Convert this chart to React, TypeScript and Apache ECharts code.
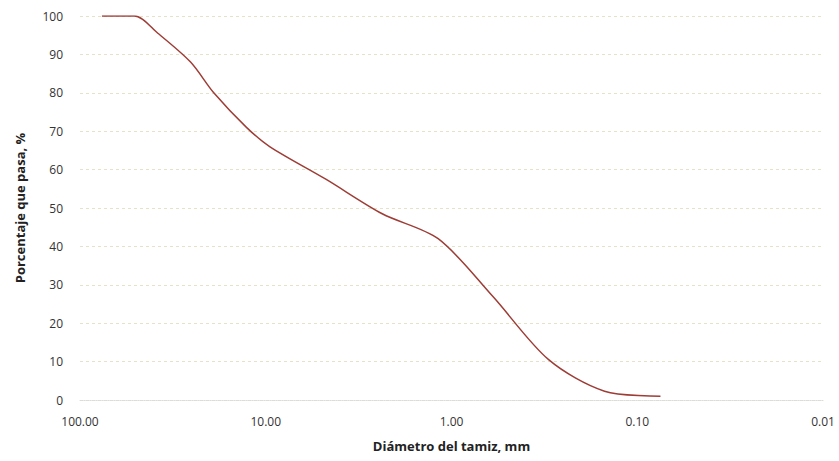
import React, { useEffect, useRef } from "react";
import * as echarts from "echarts";

const diameters = [76.2, 50.8, 38.1, 25.4, 19.05, 12.7, 9.53, 4.75, 2.36, 1.18, 0.6, 0.3, 0.15, 0.075];
const passing = [100, 100, 95.5, 88, 80, 71, 66, 57.5, 48.5, 42, 27, 10.5, 2.3, 1];
const yTicks = [0, 10, 20, 30, 40, 50, 60, 70, 80, 90, 100];

export default function App() {
  const ref = useRef<HTMLDivElement>(null);
  useEffect(() => {
    if (!ref.current) return;
    const chart = echarts.init(ref.current, undefined, { renderer: "svg" });
    const font = "'Open Sans', 'Noto Sans', sans-serif";
    chart.setOption({
      animation: false,
      grid: { left: 80, right: 16, top: 16, bottom: 61, containLabel: false },
      xAxis: {
        type: "log",
        logBase: 10,
        min: 0.01,
        max: 100,
        inverse: true,
        name: "Diámetro del tamiz, mm",
        nameLocation: "middle",
        nameGap: 39,
        nameTextStyle: { fontFamily: font, fontSize: 13, fontWeight: "bold", color: "#222" },
        axisLine: { show: true, lineStyle: { color: "#dcdcd4", type: "dotted", width: 1 } },
        axisTick: { show: false },
        splitLine: { show: false },
        axisLabel: {
          fontFamily: font,
          fontSize: 12,
          color: "#333",
          margin: 15,
          formatter: (v: number) => v.toFixed(2),
        },
      },
      yAxis: {
        type: "value",
        min: yTicks[0],
        max: yTicks[yTicks.length - 1],
        interval: 10,
        name: "Porcentaje que pasa, %",
        nameLocation: "middle",
        nameGap: 54,
        nameTextStyle: { fontFamily: font, fontSize: 13, fontWeight: "bold", color: "#222" },
        axisLine: { show: false },
        axisTick: { show: false },
        axisLabel: { fontFamily: font, fontSize: 12, color: "#333", margin: 17 },
        splitLine: { show: true, lineStyle: { color: "#e6e2c8", type: [3, 3], width: 1 } },
      },
      series: [
        {
          type: "line",
          data: diameters.map((d, i) => [d, passing[i]]),
          smooth: 0.3,
          showSymbol: false,
          symbol: "none",
          lineStyle: { color: "#9e3d36", width: 1.5 },
        },
      ],
    });
    return () => chart.dispose();
  }, []);
  return <div ref={ref} style={{ width: 839, height: 461, position: "absolute", left: 0, top: 0, background: "#fff" }} />;
}
